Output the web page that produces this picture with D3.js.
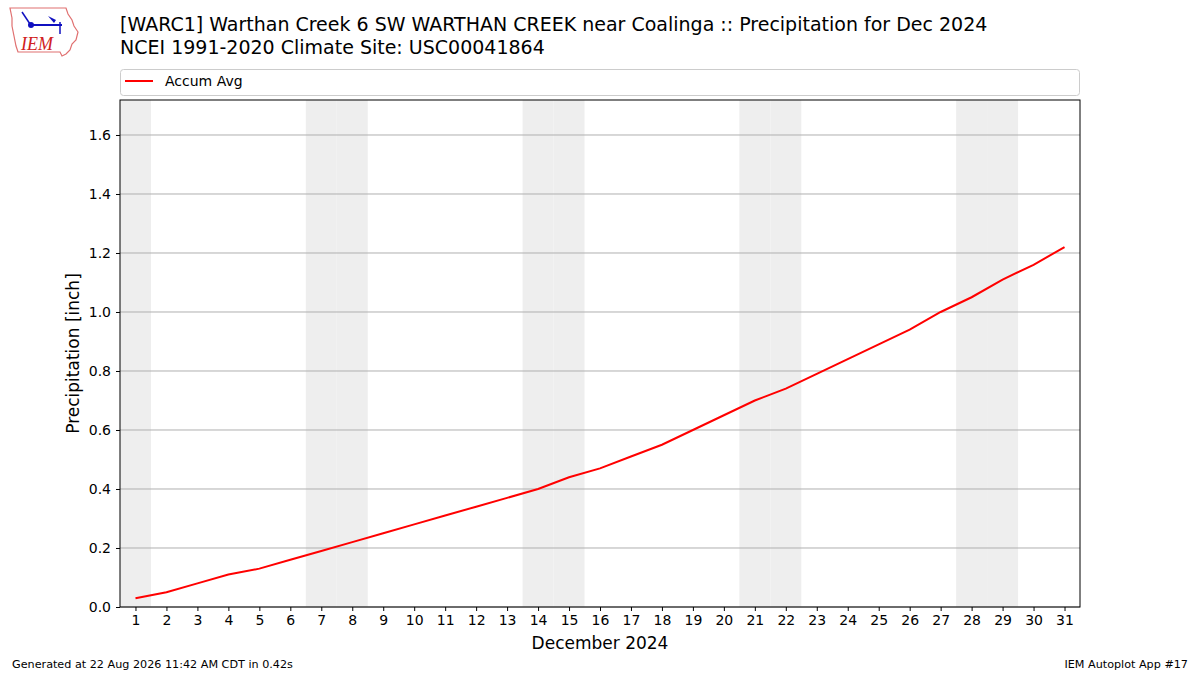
<!DOCTYPE html>
<html>
<head>
<meta charset="utf-8">
<script src="https://cdn.jsdelivr.net/npm/d3@7"></script>
<style>
  body { margin: 0; background: #fff; }
  svg { display: block; font-family: "DejaVu Sans", sans-serif; }
</style>
</head>
<body>
<svg id="chart" width="1200" height="675"></svg>
<script>
// data
var days = d3.range(1, 32);
var accumAvg = [0.03, 0.05, 0.08, 0.11, 0.13, 0.16, 0.19, 0.22, 0.25, 0.28,
                0.31, 0.34, 0.37, 0.40, 0.44, 0.47, 0.51, 0.55, 0.60, 0.65,
                0.70, 0.74, 0.79, 0.84, 0.89, 0.94, 1.00, 1.05, 1.11, 1.16, 1.22];
var weekendDays = [1, 7, 8, 14, 15, 21, 22, 28, 29];
var yTicks = [0.0, 0.2, 0.4, 0.6, 0.8, 1.0, 1.2, 1.4, 1.6];
var titleLines = ['[WARC1] Warthan Creek 6 SW WARTHAN CREEK near Coalinga :: Precipitation for Dec 2024',
                  'NCEI 1991-2020 Climate Site: USC00041864'];

var svg = d3.select('#chart');
var pLeft = 120, pRight = 1080, pTop = 100, pBottom = 607;

var x = d3.scaleLinear().domain([0.5, 31.5]).range([pLeft, pRight]);
var y = d3.scaleLinear().domain([0, 1.7186]).range([pBottom, pTop]);

// weekend shading
svg.selectAll('rect.wk')
    .data(weekendDays)
    .enter()
    .append('rect')
    .attr('class', 'wk')
    .attr('x', function (d) { return x(d - 0.5); })
    .attr('width', function (d) { return x(d + 0.5) - x(d - 0.5); })
    .attr('y', pTop)
    .attr('height', pBottom - pTop)
    .attr('fill', '#eeeeee');

// grid
svg.append('g')
    .selectAll('line')
    .data(yTicks)
    .enter()
    .append('line')
    .attr('x1', pLeft).attr('x2', pRight)
    .attr('y1', function (d) { return y(d); })
    .attr('y2', function (d) { return y(d); })
    .attr('stroke', '#b0b0b0')
    .attr('stroke-width', 1);

// line
var line = d3.line()
    .x(function (d, i) { return x(days[i]); })
    .y(function (d) { return y(d); });

svg.append('path')
    .datum(accumAvg)
    .attr('d', line)
    .attr('fill', 'none')
    .attr('stroke', '#ff0000')
    .attr('stroke-width', 2);

// frame
svg.append('rect')
    .attr('x', pLeft).attr('y', pTop)
    .attr('width', pRight - pLeft).attr('height', pBottom - pTop)
    .attr('fill', 'none')
    .attr('stroke', '#000')
    .attr('stroke-width', 1);

// axes
var xAxis = d3.axisBottom(x).tickValues(days).tickSize(4).tickPadding(4)
    .tickFormat(d3.format('d'));
var gx = svg.append('g')
    .attr('transform', 'translate(0,' + pBottom + ')')
    .call(xAxis);
gx.select('.domain').remove();
gx.selectAll('text').attr('font-size', 14).attr('font-family', 'DejaVu Sans').attr('fill', '#000');

var yAxis = d3.axisLeft(y).tickValues(yTicks).tickSize(4).tickPadding(5)
    .tickFormat(d3.format('.1f'));
var gy = svg.append('g')
    .attr('transform', 'translate(' + pLeft + ',0)')
    .call(yAxis);
gy.select('.domain').remove();
gy.selectAll('text').attr('font-size', 14).attr('font-family', 'DejaVu Sans').attr('fill', '#000');

// axis labels
svg.append('text')
    .attr('x', (pLeft + pRight) / 2)
    .attr('y', 649)
    .attr('text-anchor', 'middle')
    .attr('font-size', 17)
    .text('December 2024');

svg.append('text')
    .attr('transform', 'translate(79,' + ((pTop + pBottom) / 2) + ') rotate(-90)')
    .attr('text-anchor', 'middle')
    .attr('font-size', 17)
    .text('Precipitation [inch]');

// title
svg.selectAll('text.title')
    .data(titleLines)
    .enter()
    .append('text')
    .attr('class', 'title')
    .attr('x', 120)
    .attr('y', function (d, i) { return 31 + i * 23; })
    .attr('font-size', 19)
    .text(function (d) { return d; });

// legend
svg.append('rect')
    .attr('x', 120.5).attr('y', 69.5)
    .attr('width', 959).attr('height', 26)
    .attr('rx', 3)
    .attr('fill', '#fff')
    .attr('stroke', '#cccccc');
svg.append('line')
    .attr('x1', 125).attr('x2', 153)
    .attr('y1', 81).attr('y2', 81)
    .attr('stroke', '#ff0000')
    .attr('stroke-width', 2);
svg.append('text')
    .attr('x', 165).attr('y', 86)
    .attr('font-size', 14)
    .text('Accum Avg');

// footer
svg.append('text')
    .attr('x', 12).attr('y', 668)
    .attr('font-size', 11.2)
    .text('Generated at 22 Aug 2026 11:42 AM CDT in 0.42s');
svg.append('text')
    .attr('x', 1188).attr('y', 668)
    .attr('text-anchor', 'end')
    .attr('font-size', 11.2)
    .text('IEM Autoplot App #17');

// logo (rough sketch)
var logo = svg.append('g');
logo.append('path')
    .attr('d', 'M10,8 L66,8 L68,14 L72,20 L74,26 L78,32 L76,40 L72,44 L70,50 L66,54 L62,56 L60,52 L18,52 L16,46 L14,36 L12,26 L12,18 Z')
    .attr('fill', 'none')
    .attr('stroke', '#e07070')
    .attr('stroke-width', 1.2);
logo.append('line').attr('x1', 31).attr('y1', 25).attr('x2', 62).attr('y2', 25)
    .attr('stroke', '#1010c0').attr('stroke-width', 2);
logo.append('circle').attr('cx', 31).attr('cy', 25).attr('r', 3).attr('fill', '#1010c0');
logo.append('path').attr('d', 'M48,16 L56,20 L54,23 Z').attr('fill', '#1010c0');
logo.append('line').attr('x1', 60).attr('y1', 22).attr('x2', 60).attr('y2', 34)
    .attr('stroke', '#1010c0').attr('stroke-width', 1.5);
logo.append('path').attr('d', 'M22,12 L26,18 L30,24').attr('fill', 'none')
    .attr('stroke', '#1010c0').attr('stroke-width', 1.5);
logo.append('text')
    .attr('x', 21).attr('y', 50)
    .attr('font-family', 'Liberation Serif, serif')
    .attr('font-style', 'italic')
    .attr('font-size', 18)
    .attr('fill', '#d02020')
    .text('IEM');
</script>
</body>
</html>
